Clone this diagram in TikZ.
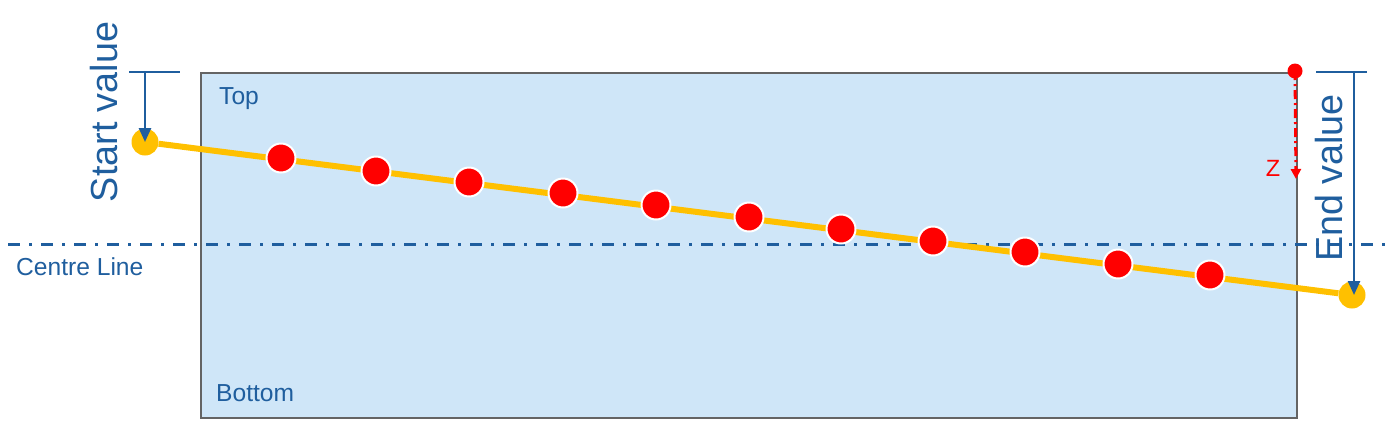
\documentclass[tikz,border=0pt]{standalone}
\usepackage{fontspec}
\setmainfont{Liberation Sans}
\usetikzlibrary{arrows.meta}
\definecolor{dblue}{RGB}{31,94,158}
\definecolor{lblue}{RGB}{207,230,248}
\definecolor{frame}{RGB}{100,100,100}
\definecolor{gold}{RGB}{255,192,0}
\tikzset{
  lbl/.style={text=dblue,inner sep=0pt,font=\fontsize{24.6}{28}\selectfont},
  big/.style={text=dblue,inner sep=0pt,rotate=90,anchor=base,font=\fontsize{37.7}{40}\selectfont},
  reddot/.style={circle,fill=red,draw=white,line width=2pt,minimum size=29pt,inner sep=0pt},
  golddot/.style={circle,fill=gold,minimum size=27pt,inner sep=0pt},
  dimarrow/.style={dblue,line width=2.5pt,-{Triangle[width=12pt,length=14pt]}},
  tick/.style={dblue,line width=2pt},
}
\begin{document}
\begin{tikzpicture}[x=1pt,y=-1pt]
\useasboundingbox (0,0) rectangle (1392,424);
\node[draw=frame,fill=lblue,line width=2pt,inner sep=0pt,minimum width=1096pt,minimum height=345pt,anchor=north west] (box) at (200,72) {};
\node[lbl,anchor=base west] (top) at (219,104) {Top};
\node[lbl,anchor=base west] (bottom) at (216,401) {Bottom};
\node[lbl,anchor=base west] (cl) at (16,275) {Centre Line};
\coordinate (clA) at (8,244);
\coordinate (clB) at (1386,244);
\draw[dblue,line width=3pt,dash pattern=on 12pt off 9pt on 3pt off 9pt] (clA) -- (clB);
% yellow line
\node[golddot] (start) at (145,142) {};
\node[golddot] (end) at (1352,295) {};
\draw[gold,line width=6pt] (start) -- (end);
\foreach \x/\y [count=\i] in {281/158,376/171,469/182,563/193,656/205,749/217,841/229,933/241,1025/252,1118/264,1210/275}{
  \node[reddot] (d\i) at (\x,\y) {};
}
% start value
\coordinate (s1) at (129,72);
\coordinate (s2) at (180,72);
\coordinate (sa) at (145,72);
\draw[tick] (s1) -- (s2);
\draw[dimarrow] (sa) -- (start.center);
\node[big] (stext) at (117,112) {Start value};
% end value
\coordinate (e1) at (1316,72);
\coordinate (e2) at (1367,72);
\coordinate (ea) at (1354,72);
\draw[tick] (e1) -- (e2);
\draw[dimarrow] (ea) -- (1354,295);
\node[big] (etext) at (1342,178) {End value};
% Z
\node[circle,fill=red,minimum size=15pt,inner sep=0pt] (z0) at (1295,71) {};
\coordinate (zt) at (1296,179);
\draw[red,line width=3pt,dash pattern=on 9pt off 4pt on 2pt off 4pt,-{Triangle[width=10pt,length=10pt]}] (z0.center) -- (zt);
\node[text=red,inner sep=0pt,font=\fontsize{23.5}{26}\selectfont] (z) at (1273,168) {Z};
\end{tikzpicture}
\end{document}
